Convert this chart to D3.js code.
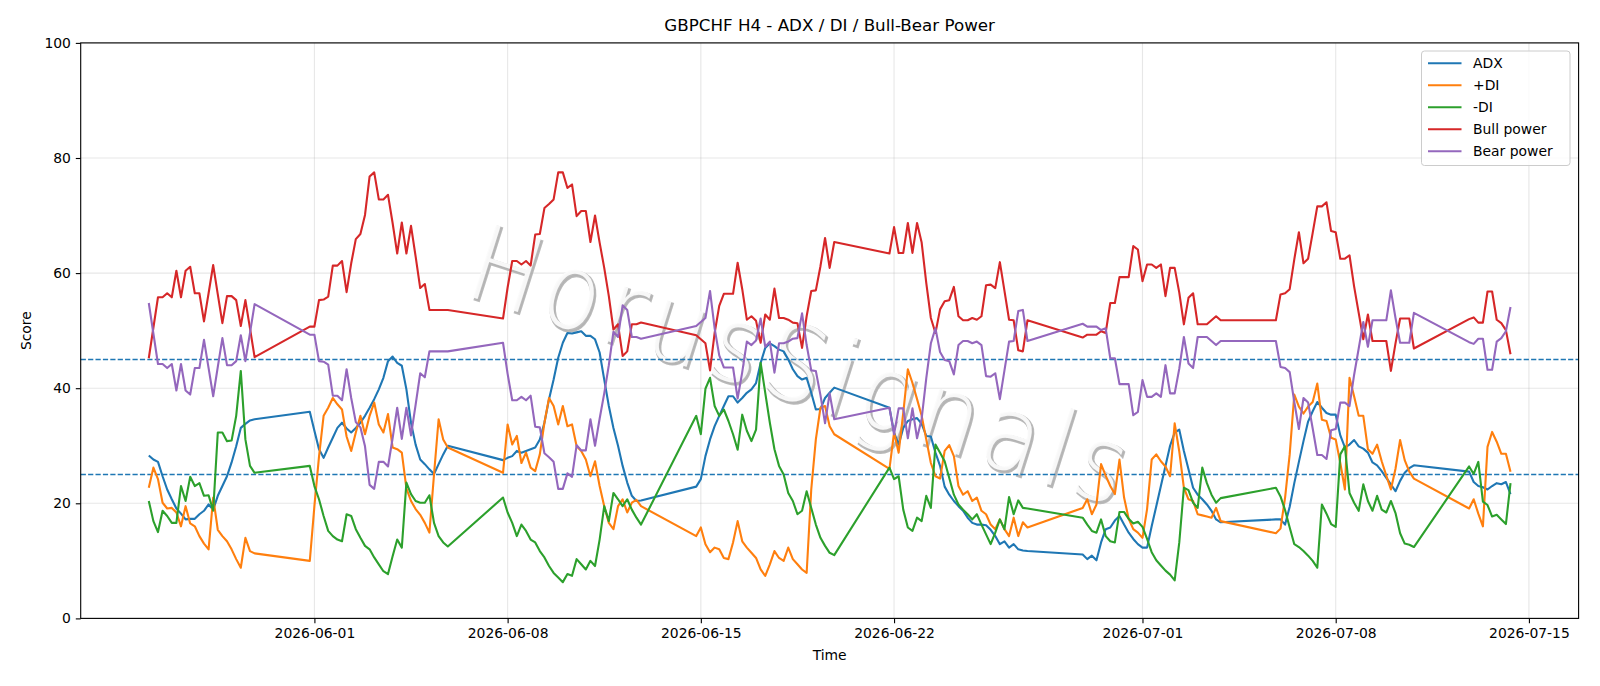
<!DOCTYPE html>
<html>
<head>
<meta charset="utf-8">
<script src="https://cdn.jsdelivr.net/npm/d3@7"></script>
<style>
  body { margin: 0; background: #fff; }
  text { font-family: "DejaVu Sans", sans-serif; }
</style>
</head>
<body>
<div id="chart"></div>
<script>
// H4 sessions: first bar of each trading week and how many bars it holds
const sessionStart = ["2026-05-26T00:00", "2026-05-31T20:00", "2026-06-07T20:00", "2026-06-14T20:00",
  "2026-06-21T20:00", "2026-06-28T20:00", "2026-07-05T20:00", "2026-07-12T20:00"];
const sessionBars = [24, 31, 31, 31, 31, 31, 31, 10];

const xTicks = ["2026-06-01", "2026-06-08", "2026-06-15", "2026-06-22", "2026-07-01", "2026-07-08", "2026-07-15"];
const yTicks = [0, 20, 40, 60, 80, 100];
const levels = [45, 25];

const adx = [
  28.3,27.6,27.2,24.7,22.4,20.7,19.1,18.2,17.2,17.3,17.3,18.1,18.7,19.8,18.9,21.3,23.0,24.7,27.1,29.9,33.1,33.8,34.4,34.6,
  35.9,32.6,29.4,27.9,29.7,31.4,33.1,34.0,33.0,32.3,33.1,34.0,35.2,36.6,38.1,39.8,41.8,44.7,45.5,44.4,43.9,39.8,34.0,30.2,27.6,26.8,25.9,25.1,26.8,28.5,30.0,
  27.5,27.9,28.2,29.1,28.8,29.1,29.4,29.7,31.1,34.0,38.1,41.5,45.3,47.9,49.6,49.5,49.7,49.9,49.1,49.1,48.5,46.2,41.5,36.9,33.1,30.0,26.5,23.6,21.3,20.4,20.5,
  22.9,24.2,28.2,31.1,33.4,35.2,36.9,38.6,38.6,37.5,38.3,39.2,39.8,40.9,44.4,47.0,47.8,47.3,46.7,46.4,45.0,43.3,42.1,41.5,41.8,39.2,36.3,36.4,38.3,39.2,40.1,
  36.6,32.3,30.2,33.1,34.3,34.6,34.8,33.8,31.7,31.6,28.8,26.5,22.9,21.5,20.4,19.5,18.7,17.5,16.6,16.3,16.3,16.2,15.4,14.3,12.9,13.4,12.3,12.9,12.0,11.8,11.7,
  11.1,10.3,10.9,10.1,13.2,15.5,15.8,17.0,17.8,16.3,14.9,13.8,12.9,12.3,12.3,16.0,19.5,23.0,26.5,30.0,32.3,32.8,29.1,25.9,22.7,21.5,20.7,19.8,18.7,17.2,16.7,
  17.2,17.2,16.3,19.4,23.5,27.2,30.8,34.2,36.0,37.6,36.6,35.7,35.4,35.4,31.8,29.7,30.2,31.0,29.9,29.5,28.8,27.1,26.6,25.6,24.4,23.3,22.1,23.9,25.3,26.1,26.6,
  25.5,23.7,23.0,22.8,22.4,23.0,23.5,23.3,23.7,21.6
];

const plusDI = [
  22.7,26.2,24.2,20.1,19.1,19.2,18.4,16.0,19.5,16.5,16.0,14.3,13.0,12.0,21.0,15.4,14.3,13.4,12.0,10.3,8.8,14.0,11.7,11.3,
  10.0,19.5,28.1,35.2,36.6,38.3,37.2,36.3,31.6,29.1,32.3,35.2,32.0,35.2,37.5,33.7,32.3,35.5,29.7,29.4,28.8,22.6,20.4,19.0,18.0,16.6,14.9,25.0,34.6,31.1,29.7,
  25.3,33.7,30.2,31.7,27.0,28.8,26.2,25.6,28.5,34.0,38.3,36.9,33.7,36.9,33.4,33.7,29.9,29.1,27.6,24.7,27.3,23.0,19.5,16.6,15.5,19.5,20.7,18.4,20.1,20.6,19.5,
  14.3,15.8,12.9,11.5,12.3,12.0,10.5,10.3,13.2,16.9,13.4,12.3,11.4,10.5,8.5,7.4,9.4,11.7,10.5,10.0,12.3,10.3,9.4,8.5,7.9,22.4,31.1,36.6,36.9,33.4,32.0,
  26.0,32.3,28.8,35.7,43.3,40.9,38.1,35.2,31.1,27.0,24.7,24.3,29.1,30.1,28.2,23.0,21.5,22.1,20.4,21.0,18.7,18.1,16.3,15.5,17.2,15.5,14.3,17.5,14.3,16.7,15.8,
  19.2,20.7,18.1,19.8,26.8,24.8,23.0,21.6,27.6,21.0,17.3,15.5,14.9,14.0,19.0,27.6,28.5,27.3,26.4,24.7,33.9,29.0,22.7,20.7,20.4,18.1,17.9,17.7,17.5,19.2,16.9,
  14.8,15.6,21.0,28.5,38.9,36.8,35.6,36.8,37.6,40.8,34.5,34.3,31.4,31.1,27.0,22.4,41.8,38.6,35.2,35.2,29.4,28.6,30.2,27.3,24.8,22.4,26.0,31.0,27.5,25.5,24.3,
  19.1,20.7,18.2,16.0,29.8,32.4,30.7,28.6,28.6,25.5
];

const minusDI = [
  20.4,16.9,15.0,18.7,17.8,16.6,16.6,23.0,20.4,24.6,23.0,23.5,21.3,21.4,18.7,32.3,32.3,30.8,30.9,35.2,43.0,31.1,26.5,25.3,
  26.5,23.0,20.7,17.8,15.2,14.3,13.7,13.4,18.1,17.8,15.5,14.0,12.6,12.0,10.6,9.4,8.2,7.7,10.8,13.7,12.3,23.6,21.6,20.4,20.1,20.1,21.4,16.6,14.3,13.2,12.5,
  21.0,18.4,16.6,14.3,16.3,15.2,13.7,13.2,11.7,10.6,9.1,7.9,7.1,6.3,7.7,7.4,10.3,9.4,8.5,10.0,9.1,13.7,19.5,16.9,21.8,20.7,19.5,20.7,18.9,17.5,16.3,
  35.2,32.0,39.9,41.8,36.9,35.2,36.3,34.3,32.0,29.3,35.4,32.6,30.8,32.8,44.4,39.2,34.0,29.4,26.5,25.0,21.8,20.4,18.1,18.7,22.1,19.2,16.3,14.0,12.6,11.4,11.0,
  26.2,24.2,24.7,18.9,15.8,15.2,17.5,16.9,21.3,19.2,30.2,28.8,27.3,24.4,21.5,19.8,18.9,18.1,17.2,18.1,16.3,14.6,12.9,14.9,17.2,15.5,21.1,18.1,20.5,19.2,19.1,
  17.5,16.3,15.2,14.9,17.2,14.3,13.4,13.2,18.5,18.5,17.3,16.5,16.8,15.9,13.8,11.5,10.1,9.2,8.3,7.6,6.6,13.2,22.7,22.3,20.1,19.2,26.2,23.5,21.5,20.1,20.9,
  22.7,21.2,18.8,15.8,12.9,12.4,11.7,10.9,10.0,8.8,19.8,18.2,16.4,15.9,28.5,29.9,21.8,20.1,18.7,23.3,20.4,18.7,21.3,18.9,18.4,20.4,18.3,14.8,13.0,12.8,12.4,
  26.4,25.1,27.2,20.3,19.7,17.7,18.0,17.2,16.4,23.5
];

const bullPower = [
  45.2,50.5,55.8,55.8,56.5,55.8,60.4,55.8,60.4,61.1,56.5,56.5,51.6,56.5,61.4,56.3,51.3,56.0,56.0,55.3,50.8,55.3,50.4,45.4,
  50.7,50.7,55.3,55.4,55.9,61.3,61.3,62.1,56.7,61.7,65.9,66.8,70.1,76.8,77.5,72.8,72.8,73.6,68.7,63.4,68.8,63.4,68.2,62.9,57.4,58.1,53.6,53.6,53.6,53.6,53.6,
  52.1,57.5,62.1,62.1,61.5,62.1,61.3,66.7,66.8,71.3,72.0,72.8,77.5,77.5,74.8,75.4,69.9,70.8,70.8,65.4,70.0,65.3,60.9,56.0,50.2,51.1,45.6,46.4,51.1,51.1,51.4,
  49.2,48.5,47.8,43.1,49.6,54.3,56.4,56.4,56.4,61.8,57.2,51.9,52.5,51.7,47.9,52.8,51.9,57.3,52.2,52.2,51.9,51.4,51.3,47.0,52.5,56.9,57.0,61.2,66.1,60.9,65.4,
  63.4,68.0,63.5,63.5,68.7,63.5,68.7,65.3,58.3,52.2,49.6,53.7,55.1,55.3,57.6,52.5,51.8,51.8,52.2,51.9,52.5,57.9,58.0,57.4,61.9,56.9,51.9,51.8,46.6,46.4,51.8,
  48.8,49.3,49.3,49.3,49.9,49.6,54.8,54.8,59.3,59.3,59.3,64.7,64.1,58.6,61.5,61.5,60.9,61.5,56.0,60.9,60.9,56.6,51.1,55.7,56.5,51.1,51.1,51.1,51.8,52.5,51.8,
  51.8,56.3,56.5,57.2,62.4,67.1,61.7,62.5,67.0,71.6,71.6,72.3,67.3,67.1,62.5,62.5,63.1,57.7,53.1,48.5,52.8,48.2,48.2,48.2,48.2,43.0,47.8,52.1,52.1,52.1,46.9,
  52.0,52.3,51.4,51.4,56.8,56.8,51.9,51.3,50.1,45.9
];

const bearPower = [
  54.8,49.5,44.2,44.2,43.5,44.2,39.6,44.2,39.6,38.9,43.5,43.5,48.4,43.5,38.6,43.7,48.7,44.0,44.0,44.7,49.2,44.7,49.6,54.6,
  49.3,49.3,44.7,44.6,44.1,38.7,38.7,37.9,43.3,38.3,34.1,33.2,29.9,23.2,22.5,27.2,27.2,26.4,31.3,36.6,31.2,36.6,31.8,37.1,42.6,41.9,46.4,46.4,46.4,46.4,46.4,
  47.9,42.5,37.9,37.9,38.5,37.9,38.7,33.3,33.2,28.7,28.0,27.2,22.5,22.5,25.2,24.6,30.1,29.2,29.2,34.6,30.0,34.7,39.1,44.0,49.8,48.9,54.4,53.6,48.9,48.9,48.6,
  50.8,51.5,52.2,56.9,50.4,45.7,43.6,43.6,43.6,38.2,42.8,48.1,47.5,48.3,52.1,47.2,48.1,42.7,47.8,47.8,48.1,48.6,48.7,53.0,47.5,43.1,43.0,38.8,33.9,39.1,34.6,
  36.6,32.0,36.5,36.5,31.3,36.5,31.3,34.7,41.7,47.8,50.4,46.3,44.9,44.7,42.4,47.5,48.2,48.2,47.8,48.1,47.5,42.1,42.0,42.6,38.1,43.1,48.1,48.2,53.4,53.6,48.2,
  51.2,50.7,50.7,50.7,50.1,50.4,45.2,45.2,40.7,40.7,40.7,35.3,35.9,41.4,38.5,38.5,39.1,38.5,44.0,39.1,39.1,43.4,48.9,44.3,43.5,48.9,48.9,48.9,48.2,47.5,48.2,
  48.2,43.7,43.5,42.8,37.6,32.9,38.3,37.5,33.0,28.4,28.4,27.7,32.7,32.9,37.5,37.5,36.9,42.3,46.9,51.5,47.2,51.8,51.8,51.8,51.8,57.0,52.2,47.9,47.9,47.9,53.1,
  48.0,47.7,48.6,48.6,43.2,43.2,48.1,48.7,49.9,54.1
];

const seriesNames = ["ADX", "+DI", "-DI", "Bull power", "Bear power"];
const seriesColors = ["#1f77b4", "#ff7f0e", "#2ca02c", "#d62728", "#9467bd"];
const seriesValues = [adx, plusDI, minusDI, bullPower, bearPower];

// bar timestamps, 4 hours apart inside each session
const parse = d3.utcParse("%Y-%m-%dT%H:%M");
const times = [];
sessionStart.forEach((s, i) => {
  const t0 = parse(s).getTime();
  for (let k = 0; k < sessionBars[i]; k++) times.push(new Date(t0 + k * 4 * 3600 * 1000));
});

const W = 1600, H = 686;
const plotL = 80.7, plotR = 1578.6, plotT = 42.9, plotB = 618.4;

const svg = d3.select("#chart").append("svg")
  .attr("width", W).attr("height", H)
  .style("display", "block");

// matplotlib-style 5% margin on the time axis
const ext = d3.extent(times);
const pad = (ext[1] - ext[0]) * 0.05;
const x = d3.scaleUtc()
  .domain([new Date(+ext[0] - pad), new Date(+ext[1] + pad)])
  .range([plotL, plotR]);
const y = d3.scaleLinear().domain([0, 100]).range([plotB, plotT]);

const tickDates = xTicks.map(d3.utcParse("%Y-%m-%d"));

// grid
const grid = svg.append("g").attr("stroke", "#b0b0b0").attr("stroke-opacity", 0.3).attr("stroke-width", 1.1);
grid.selectAll("line.gx").data(tickDates).join("line")
  .attr("x1", d => x(d)).attr("x2", d => x(d)).attr("y1", plotT).attr("y2", plotB);
grid.selectAll("line.gy").data(yTicks).join("line")
  .attr("x1", plotL).attr("x2", plotR).attr("y1", d => y(d)).attr("y2", d => y(d));

// watermark: thin glyphs sheared along a descending baseline
const wm = svg.append("g")
  .attr("transform", "translate(464,296) skewY(18) skewX(-16) scale(0.8,1)")
  .style("pointer-events", "none");
[["#b2b2b2", 0, 0, 0.9, 2.4], ["#fbfbfb", -2.4, -1.6, 0.95, 0]].forEach(([c, dx, dy, op, sw]) => {
  wm.append("text")
    .attr("x", dx).attr("y", dy)
    .style("font-size", "110px").style("font-weight", "200")
    .attr("textLength", 815).attr("lengthAdjust", "spacing")
    .attr("fill", c).attr("fill-opacity", op)
    .attr("stroke", c).attr("stroke-width", sw).attr("stroke-opacity", op)
    .text("HorusSignals");
});

// reference levels
svg.append("g").selectAll("line").data(levels).join("line")
  .attr("x1", plotL).attr("x2", plotR)
  .attr("y1", d => y(d)).attr("y2", d => y(d))
  .attr("stroke", "#1f77b4").attr("stroke-width", 1.4)
  .attr("stroke-dasharray", "5.2,2.2");

// series
const line = d3.line().x((d, i) => x(times[i])).y(d => y(d));
svg.append("g").selectAll("path").data(seriesValues).join("path")
  .attr("d", d => line(d))
  .attr("fill", "none")
  .attr("stroke", (d, i) => seriesColors[i])
  .attr("stroke-width", 2.1)
  .attr("stroke-linejoin", "round");

// axes
const xAxis = svg.append("g")
  .attr("transform", `translate(0,${plotB})`)
  .call(d3.axisBottom(x).tickValues(tickDates).tickFormat(d3.utcFormat("%Y-%m-%d")).tickSize(4.9).tickPadding(4.9));
const yAxis = svg.append("g")
  .attr("transform", `translate(${plotL},0)`)
  .call(d3.axisLeft(y).tickValues(yTicks).tickSize(4.9).tickPadding(4.9));
[xAxis, yAxis].forEach(g => {
  g.select(".domain").remove();
  g.selectAll(".tick line").attr("stroke", "#000").attr("stroke-width", 1.1);
  g.selectAll(".tick text").attr("fill", "#000").style("font-size", "13.9px")
    .style("font-family", "'DejaVu Sans', sans-serif");
});

// frame
svg.append("rect")
  .attr("x", plotL).attr("y", plotT)
  .attr("width", plotR - plotL).attr("height", plotB - plotT)
  .attr("fill", "none").attr("stroke", "#000").attr("stroke-width", 1.1);

// titles
svg.append("text")
  .attr("x", (plotL + plotR) / 2).attr("y", 31)
  .attr("text-anchor", "middle")
  .style("font-size", "16.7px")
  .text("GBPCHF H4 - ADX / DI / Bull-Bear Power");
svg.append("text")
  .attr("x", (plotL + plotR) / 2).attr("y", 660)
  .attr("text-anchor", "middle")
  .style("font-size", "13.9px")
  .text("Time");
svg.append("text")
  .attr("transform", `translate(31,${(plotT + plotB) / 2}) rotate(-90)`)
  .attr("text-anchor", "middle")
  .style("font-size", "13.9px")
  .text("Score");

// legend
const lg = svg.append("g");
lg.append("rect")
  .attr("x", 1421.5).attr("y", 51).attr("width", 148.5).attr("height", 114.5)
  .attr("rx", 3).attr("fill", "#fff").attr("fill-opacity", 0.8)
  .attr("stroke", "#cccccc").attr("stroke-width", 1);
const rows = lg.selectAll("g.row").data(seriesNames).join("g")
  .attr("transform", (d, i) => `translate(0,${63.2 + i * 22})`);
rows.append("line")
  .attr("x1", 1428).attr("x2", 1461.5)
  .attr("stroke", (d, i) => seriesColors[i]).attr("stroke-width", 2.1);
rows.append("text")
  .attr("x", 1473).attr("dy", "0.35em")
  .style("font-size", "13.9px")
  .text(d => d);
</script>
</body>
</html>
